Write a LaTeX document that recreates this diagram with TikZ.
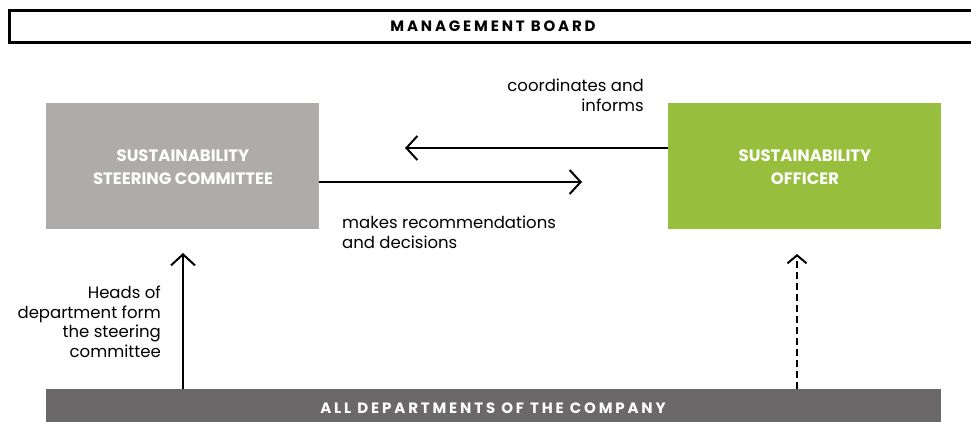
\documentclass[tikz,border=0pt]{standalone}
\usepackage{fontspec}
\setmainfont{Poppins}
\usetikzlibrary{arrows.meta}
\definecolor{greybox}{HTML}{ADACAA}
\definecolor{greenbox}{HTML}{97BF3D}
\definecolor{darkbar}{HTML}{6A6868}
\tikzset{
  box/.style={draw=none, inner sep=0pt},
  boxtext/.style={inner sep=0pt, align=center, text=white, anchor=base, font=\fontsize{16.5}{23}\selectfont\bfseries},
  bartext/.style={inner sep=0pt, anchor=base, font=\fontsize{15}{17}\selectfont\bfseries\addfontfeature{LetterSpace=19}},
  lbl/.style={inner sep=0pt, font=\fontsize{16.5}{19.4}\selectfont},
  conn/.style={line width=2pt, -{Straight Barb[length=11pt,width=24pt,line width=2pt]}},
  dconn/.style={line width=2pt, dash pattern=on 7pt off 4pt, -{Straight Barb[length=8pt,width=19pt,line width=2pt]}},
}
\begin{document}
\begin{tikzpicture}[x=1pt,y=-1pt]
\useasboundingbox (0,0) rectangle (971,421);
% management board
\node[draw=black, line width=2.5pt, minimum width=990pt, minimum height=32pt, anchor=north west, inner sep=0pt] (mb) at (8,9) {};
\node[bartext] (mbt) at (493,31.5) {MANAGEMENT BOARD};
% boxes
\node[box, fill=greybox, minimum width=273pt, minimum height=126pt, anchor=north west] (ssc) at (46,103) {};
\node[boxtext] (ssct) at (183,184.5) {SUSTAINABILITY\\STEERING COMMITTEE};
\node[box, fill=greenbox, minimum width=273pt, minimum height=126pt, anchor=north west] (so) at (668,103) {};
\node[boxtext] (sot) at (805,184.5) {SUSTAINABILITY\\OFFICER};
\node[box, fill=darkbar, minimum width=895pt, minimum height=33pt, anchor=north west] (dep) at (46,389) {};
\node[bartext, text=white] (dept) at (493,413.5) {ALL DEPARTMENTS OF THE COMPANY};
% connector end points
\coordinate (e1) at (405,148);
\coordinate (e2) at (582,182);
\coordinate (e3) at (183,253);
\coordinate (e4) at (797,254);
\draw[conn] (so.west |- e1) -- (e1);
\draw[conn] (ssc.east |- e2) -- (e2);
\draw[conn] (dep.north -| e3) -- (e3);
\draw[dconn] (dep.north -| e4) -- (e4);
% labels
\node[lbl, align=right, anchor=base east] (l1) at (644,111) {coordinates and\\informs};
\node[lbl, align=left, anchor=base west] (l2) at (342,248) {makes recommendations\\and decisions};
\node[lbl, align=right, anchor=base east] (l3) at (161,357) {Heads of\\department form\\the steering\\committee};
\end{tikzpicture}
\end{document}
